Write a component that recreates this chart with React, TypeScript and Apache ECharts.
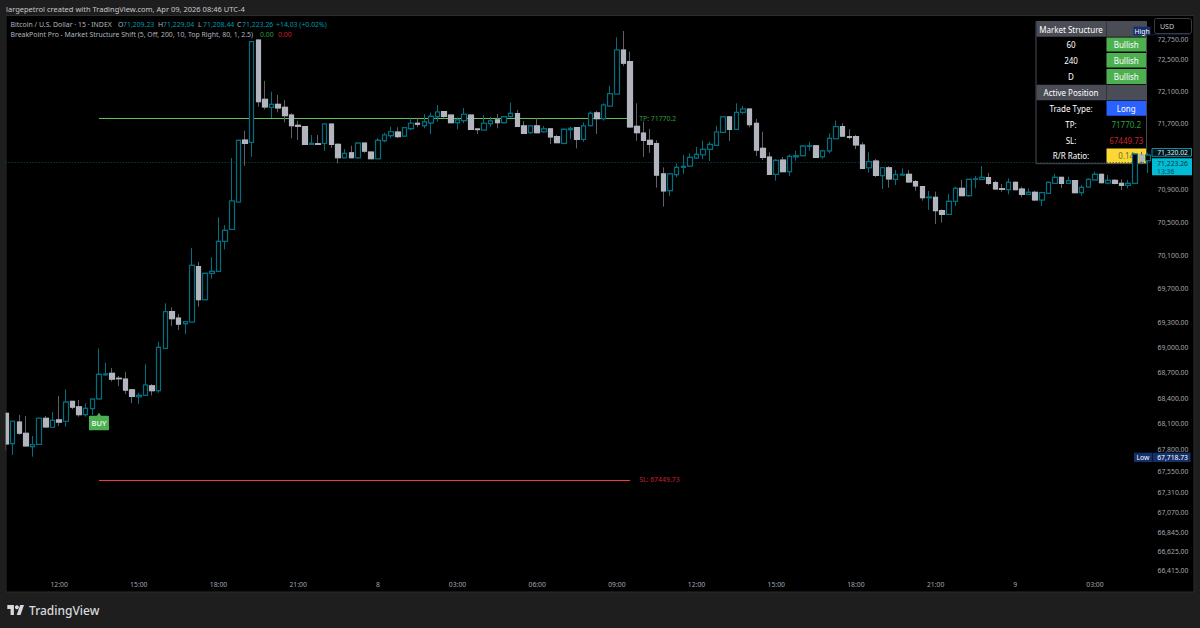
import React, { useEffect, useRef } from "react";
import * as echarts from "echarts";

const opens = [68225,67870,68123,67992,67836,67863,68167,68062,68147,68132,68365,68302,68209,68279,68395,68678,68695,68636,68627,68501,68419,68435,68548,68490,68989,69425,69350,69282,69302,69963,69568,69884,69908,70268,70413,70744,71500,71472,72738,72002,71903,71940,71903,71808,71681,71664,71447,71455,71460,71697,71447,71283,71344,71283,71463,71353,71271,71492,71553,71599,71549,71639,71706,71676,71710,71787,71849,71808,71713,71738,71808,71636,71623,71701,71747,71713,71787,71824,71673,71590,71673,71602,71636,71541,71460,71627,71652,71509,71676,71833,71763,71919,72067,72613,72468,71669,71586,71497,71455,71085,70881,71076,71166,71182,71280,71320,71386,71435,71595,71784,71632,71841,71882,71706,71398,71292,71081,71255,71113,71295,71308,71422,71430,71295,71368,71516,71664,71541,71541,71439,71161,71243,71064,71161,71020,71072,71081,70991,70930,70796,70800,70639,70595,70752,70910,70821,71020,71020,71040,70979,70906,70894,70983,70902,70837,70862,70768,70849,70971,71044,70971,71003,70857,70926,71012,71081,70975,71008,70971,70947,70971,71316,71247];
const closes = [67867,68132,67992,67844,67859,68167,68065,68143,68123,68357,68298,68209,68283,68392,68683,68686,68627,68631,68498,68424,68435,68557,68490,69001,69425,69341,69278,69306,69980,69568,69884,69908,70268,70401,70756,71497,71460,72717,71972,71907,71940,71894,71800,71676,71669,71447,71460,71447,71697,71447,71283,71337,71283,71463,71365,71271,71497,71562,71602,71543,71652,71706,71694,71722,71792,71845,71792,71713,71747,71817,71632,71628,71706,71736,71713,71787,71829,71669,71583,71673,71590,71636,71537,71467,71632,71644,71509,71673,71829,71763,71931,72071,72613,72448,71660,71590,71497,71447,71072,70878,71085,71166,71178,71288,71325,71386,71447,71599,71784,71632,71839,71882,71689,71377,71288,71081,71252,71113,71300,71308,71426,71430,71288,71368,71521,71664,71549,71533,71439,71154,71235,71069,71161,71024,71076,71081,70987,70939,70796,70804,70639,70595,70752,70910,70821,71020,71024,71044,70971,70902,70898,70983,70894,70837,70862,70768,70857,70983,71044,70971,71003,70857,70922,71020,71081,70979,71008,70971,70947,70971,71328,71243,71316];
const highs = [68225,68132,68205,68193,67960,68174,68193,68240,68427,68506,68365,68380,68342,68392,68989,68819,68757,68663,68713,68501,68466,68801,68568,69068,69525,69477,69397,69306,70187,70019,69884,70076,70559,70462,71280,71497,71615,72717,72738,72229,72096,72055,71993,71829,71738,71664,71562,71562,71706,71697,71460,71389,71430,71463,71463,71353,71521,71590,71664,71657,71652,71768,71768,71821,71837,71931,71849,71808,71780,71894,71808,71636,71808,71787,71821,71787,71960,71870,71734,71673,71768,71673,71636,71562,71644,71664,71652,71718,71853,71858,71952,72170,72771,72850,72592,71952,71726,71636,71497,71166,71085,71215,71316,71337,71418,71492,71479,71676,71784,71784,71952,71919,71882,71759,71602,71349,71267,71292,71325,71368,71438,71479,71430,71380,71583,71738,71706,71632,71562,71472,71349,71267,71170,71182,71133,71154,71133,71012,70930,70878,70870,70655,70841,70930,71012,71020,71060,71182,71100,71003,70963,71032,70991,70930,70910,70881,70870,70991,71085,71044,71052,71003,70951,71028,71113,71081,71072,71020,71020,71012,71328,71356,71344];
const lows = [67789,67739,67975,67844,67719,67863,68065,68062,68077,68069,68272,68185,68185,68205,68395,68666,68600,68545,68451,68342,68333,68435,68435,68466,68989,69255,69207,69159,69302,69484,69568,69819,69908,70171,70413,70744,71186,71295,71910,71878,71771,71841,71718,71521,71500,71447,71447,71439,71368,71405,71215,71283,71283,71271,71344,71271,71271,71472,71521,71525,71549,71623,71657,71644,71574,71726,71768,71713,71632,71706,71632,71574,71623,71664,71644,71706,71787,71669,71583,71583,71583,71590,71451,71467,71447,71512,71398,71479,71676,71574,71738,71910,72067,72415,71648,71492,71295,71344,70918,70687,70817,71044,71085,71174,71267,71267,71243,71426,71595,71488,71632,71817,71657,71304,71255,71081,71003,71113,71060,71247,71308,71368,71288,71271,71337,71516,71541,71509,71389,71142,71100,71048,70902,70918,70951,71072,70979,70881,70760,70647,70478,70493,70595,70695,70821,70809,70910,71012,70951,70890,70869,70837,70890,70800,70837,70756,70695,70849,70971,70914,70971,70849,70821,70926,71012,70971,70959,70959,70890,70910,70971,71215,71097];

const priceTicks = [72750,72500,72100,71700,70900,70500,70100,69700,69300,69000,68700,68400,68100,67800,67550,67310,67070,66845,66625,66415];
const takeProfit = 71770.2;
const stopLoss = 67449.73;
const currentPrice = 71223.26;
const otherPrice = "71,320.02";
const lowPrice = "67,718.73";
const levelFrom = 14;
const levelTo = 94;
const buyIndex = 14;
const buyPrice = 68128;

const legendOhlc = [["O", "71,209.23"], ["H", "71,229.04"], ["L", "71,208.44"], ["C", "71,223.26"]];
const tableRows = [
  ["Market Structure", ""],
  ["60", "Bullish"],
  ["240", "Bullish"],
  ["D", "Bullish"],
  ["Active Position", ""],
  ["Trade Type:", "Long"],
  ["TP:", "71770.2"],
  ["SL:", "67449.73"],
  ["R/R Ratio:", "0.14"],
];

const categories = opens.map((_, i) => {
  const m = 600 + 15 * i;
  const md = m % 1440;
  if (md === 0) return String(7 + m / 1440);
  const hh = Math.floor(md / 60);
  const mm = md % 60;
  return `${String(hh).padStart(2, "0")}:${String(mm).padStart(2, "0")}`;
});

const FONT = '"Noto Sans", sans-serif';
const UP = "#006f80";
const DOWN = "#b2b5be";
const DOWN_WICK = "#606168";
const TICK = "#a3a6ad";

function txt(x: number, y: number, text: string, fill: string, size = 6.9, align = "left", weight = "normal", z = 12) {
  return {
    type: "text",
    z,
    style: { x, y, text, fill, align, verticalAlign: "middle", font: `${weight} ${size}px ${FONT}` },
  };
}
function box(x: number, y: number, w: number, h: number, fill: string, z = 1, stroke?: string, r = 0) {
  return {
    type: "rect",
    z,
    shape: { x, y, width: w, height: h, r },
    style: { fill, stroke: stroke || "none", lineWidth: stroke ? 1 : 0 },
  };
}

function tableGraphics() {
  const left = 1036, mid = 1106, right = 1146.5, top = 21.5;
  const bounds = [21.5, 36.7, 52.3, 68.3, 84.7, 100.3, 116.3, 132.3, 148, 163.7];
  const out: any[] = [];
  out.push(box(left, top, right - left, 163.7 - top, "#000000", 1, "#4a4c54"));
  tableRows.forEach((row, i) => {
    const y0 = bounds[i], y1 = bounds[i + 1], cy = (y0 + y1) / 2;
    if (i === 0 || i === 4) {
      out.push(box(left + 0.5, y0, right - left - 1, y1 - y0, "#4b4d56", 1));
      out.push(box(mid, y0, 0.8, y1 - y0, "#2f3036", 1));
    }
    if (row[1] === "Bullish") out.push(box(mid + 0.5, y0 + 0.8, right - mid - 1, y1 - y0 - 1.6, "#4caf50", 1));
    if (row[1] === "Long") out.push(box(mid + 0.5, y0 + 0.5, right - mid - 1, y1 - y0 - 1, "#2962ff", 1));
    if (i === 8) out.push(box(mid + 0.5, y0 + 0.5, right - mid - 1, y1 - y0 - 1, "#fdd835", 1));
    out.push(txt((left + mid) / 2, cy, row[0], "#ffffff", 8, "center", "normal", 2));
    if (row[1]) {
      const col = i === 6 ? "#2e9e3e" : i === 7 ? "#c8202f" : i === 8 ? "#6e6a32" : "#ffffff";
      out.push(txt((mid + right) / 2, cy, row[1], col, 8, "center", "normal", 2));
    }
  });
  return out;
}

function graphics() {
  const g: any[] = [
    box(6, 15.5, 1188, 576.5, "#000000", -1, "#2c2c2c"),
    box(0, 0, 5.6, 628, "#1e1e1e", 20),
    txt(6, 9, "largepetrol created with TradingView.com, Apr 09, 2026 08:46 UTC-4", "#c6c8ce", 7.5, "left", "normal", 21),
    txt(10.5, 24.5, "Bitcoin / U.S. Dollar · 15 · INDEX", "#b2b5be"),
    txt(10.5, 34.5, "BreakPoint Pro - Market Structure Shift (5, Off, 200, 10, Top Right, 80, 1, 2.5)", "#b2b5be"),
    txt(260, 34.5, "0.00", "#2e9e3e"),
    txt(278, 34.5, "0.00", "#c8202f"),
    txt(276, 24.5, "+14.03 (+0.02%)", "#0097a7"),
    ...tableGraphics(),
    box(1154.5, 18.5, 37, 15, "#000000", 12, "#3c3c3c", 2),
    txt(1160, 26, "USD", "#c6c8ce", 7, "left", "normal", 13),
    box(1133.5, 26.7, 17, 8.6, "#14306a", 12),
    txt(1142, 31, "High", "#ffffff", 6.8, "center", "normal", 13),
    box(1150, 34.2, 40, 1, "#10224a", 12),
    box(1134, 452.7, 18, 9.3, "#14306a", 12),
    box(1152.5, 452.7, 38, 9.3, "#14306a", 12),
    txt(1143, 457.5, "Low", "#ffffff", 6.8, "center", "normal", 13),
    txt(1188, 457.5, lowPrice, "#ffffff", 6.8, "right", "normal", 13),
    box(1152, 148.5, 39.5, 7.8, "#02121a", 12, "#0b8ea0"),
    txt(1188, 152.5, otherPrice, "#d6f3f7", 6.8, "right", "normal", 13),
    box(1152, 158.3, 40, 17, "#00bcd4", 12),
    txt(1188, 163, "71,223.26", "#08353d", 6.8, "right", "normal", 13),
    txt(1157, 171, "13:36", "#0a4a55", 6.8, "left", "normal", 13),
    { type: "polygon", z: 21, shape: { points: [[7.3,605],[13.9,605],[13.9,615],[10.6,615],[10.6,608.9],[7.3,608.9]] }, style: { fill: "#d8d9dc" } },
    { type: "polygon", z: 21, shape: { points: [[16.7,615],[20.5,615],[24,605],[20.2,605]] }, style: { fill: "#d8d9dc" } },
    { type: "circle", z: 21, shape: { cx: 16.9, cy: 607.2, r: 2 }, style: { fill: "#d8d9dc" } },
    txt(29, 610.5, "TradingView", "#d8d9dc", 12, "left", "500", 21),
  ];
  legendOhlc.forEach(([k, v], i) => {
    const x = [118, 158, 198, 237][i];
    g.push(txt(x, 24.5, k, "#b2b5be"));
    g.push(txt(x + 5, 24.5, v, "#0097a7"));
  });
  return g;
}

export default function App() {
  const ref = useRef<HTMLDivElement>(null);
  useEffect(() => {
    const chart = echarts.init(ref.current!, undefined, { renderer: "svg" });
    const full = opens.map((o, i) => [o, closes[i], lows[i], highs[i]]);
    const bodies = opens.map((o, i) => [o, closes[i], Math.min(o, closes[i]), Math.max(o, closes[i])]);
    chart.setOption({
      animation: false,
      backgroundColor: "#1e1e1e",
      textStyle: { fontFamily: FONT },
      grid: { left: 2.68, top: 16, width: 1148.7, height: 576, containLabel: false },
      xAxis: {
        type: "category",
        data: categories,
        boundaryGap: true,
        axisLine: { show: false },
        axisTick: { show: false },
        splitLine: { show: false },
        axisLabel: {
          inside: true,
          margin: 4,
          color: TICK,
          fontSize: 6.8,
          fontFamily: FONT,
          interval: (_i: number, v: string) => !v.includes(":") || (v.endsWith(":00") && Number(v.slice(0, 2)) % 3 === 0),
        },
      },
      yAxis: {
        type: "log",
        logBase: 10,
        position: "right",
        min: 66165,
        max: 73038,
        axisLine: { show: false },
        axisTick: { show: false },
        splitLine: { show: false },
        axisLabel: {
          customValues: priceTicks,
          showMinLabel: true,
          showMaxLabel: true,
          margin: 37,
          align: "right",
          color: TICK,
          fontSize: 6.8,
          fontFamily: FONT,
          formatter: (v: number) => Math.round(v).toLocaleString("en-US", { minimumFractionDigits: 2 }),
        },
      },
      graphic: { elements: graphics() },
      series: [
        {
          type: "candlestick",
          name: "BTCUSD wicks",
          z: 5,
          barWidth: 5,
          data: full,
          itemStyle: { color: "#000000", color0: DOWN_WICK, borderColor: UP, borderColor0: DOWN_WICK, borderWidth: 1 },
          markLine: {
            silent: true,
            symbol: "none",
            label: { show: false },
            lineStyle: { color: "#0a5460", type: [1, 2], width: 1 },
            data: [{ yAxis: currentPrice }],
          },
        },
        {
          type: "candlestick",
          name: "BTCUSD bodies",
          z: 6,
          barWidth: 5,
          data: bodies,
          itemStyle: { color: "#000000", color0: DOWN, borderColor: UP, borderColor0: DOWN, borderWidth: 1.2 },
          markLine: {
            silent: true,
            symbol: "none",
            data: [
              [
                { coord: [levelFrom, takeProfit], lineStyle: { color: "#62c356", width: 1.2, type: "solid" }, label: { show: true, position: "end", formatter: `TP: ${takeProfit}`, color: "#2e9e3e", fontSize: 6.9, fontFamily: FONT, distance: 9 } },
                { coord: [levelTo, takeProfit] },
              ],
              [
                { coord: [levelFrom, stopLoss], lineStyle: { color: "#f2394a", width: 1.2, type: "solid" }, label: { show: true, position: "end", formatter: `SL: ${stopLoss}`, color: "#c8202f", fontSize: 6.9, fontFamily: FONT, distance: 9 } },
                { coord: [levelTo, stopLoss] },
              ],
            ],
          },
          markPoint: {
            silent: true,
            data: [
              {
                coord: [buyIndex, buyPrice],
                symbol: "path://M1,3 L8,3 L10,0 L12,3 L19,3 Q20,3 20,4 L20,17 Q20,18 19,18 L1,18 Q0,18 0,17 L0,4 Q0,3 1,3 Z",
                symbolSize: [20, 17.5],
                itemStyle: { color: "#4caf50" },
                label: { show: true, position: "inside", formatter: "BUY", color: "#ffffff", fontSize: 7.5, fontWeight: 500, fontFamily: FONT, offset: [0, 1] },
              },
            ],
          },
        },
      ],
    });
    return () => chart.dispose();
  }, []);
  return <div ref={ref} style={{ position: "fixed", left: 0, top: 0, width: 1200, height: 628 }} />;
}
